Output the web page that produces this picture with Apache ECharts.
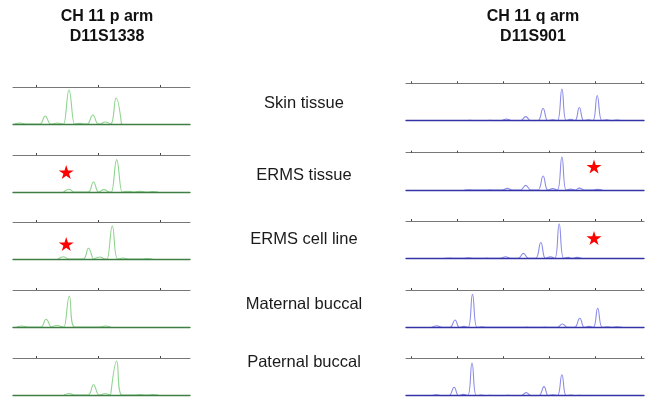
<!DOCTYPE html>
<html>
<head>
<meta charset="utf-8">
<script src="https://cdn.jsdelivr.net/npm/echarts@6/dist/echarts.min.js"></script>
<style>
  html, body { margin: 0; padding: 0; background: #fff; }
  #chart { width: 654px; height: 406px; }
</style>
</head>
<body>
<div id="chart"></div>
<script>
// Lane names (middle column)
const lanes = ['Skin tissue', 'ERMS tissue', 'ERMS cell line', 'Maternal buccal', 'Paternal buccal'];

// Size axis (bp) ticks and range for each marker
const pTicks = [140, 160, 180];
const pRange = [132.5, 189.7];
const qTicks = [200, 210, 220, 230, 240, 250];
const qRange = [198.8, 250.7];

// Peaks: [size bp, height RFU]
// D11S1338 (p arm)
const pSkin = [[134.8, 100], [142.9, 800], [146.8, 100], [150.6, 3400], [154.2, 60], [158.3, 900], [162.3, 200], [165.8, 2600]];
const pErmsTissue = [[150.6, 270], [158.5, 1000], [161.9, 240], [166.0, 3240], [169.7, 70], [173.5, 70], [177.7, 50]];
const pErmsCell = [[148.8, 230], [156.9, 1070], [160.6, 200], [164.6, 3300], [168.1, 100], [175.8, 50]];
const pMaternal = [[135.4, 100], [143.2, 770], [146.9, 150], [150.7, 3100], [162.3, 100]];
const pPaternal = [[150.7, 150], [158.5, 1030], [162.3, 150], [166.0, 3400], [173.5, 50], [177.7, 50]];

// D11S901 (q arm)
const qSkin = [[212.7, 50], [217.1, 50], [220.7, 170], [224.9, 400], [228.7, 1200], [230.8, 100], [232.8, 3140], [234.7, 150], [236.6, 1300], [238.6, 100], [240.5, 2500], [242.6, 100], [244.8, 70]];
const qErmsTissue = [[212.7, 30], [217.1, 30], [220.9, 170], [224.9, 470], [228.7, 1400], [230.8, 150], [232.8, 3270], [234.7, 100], [236.6, 200], [240.5, 70]];
const qErmsCell = [[208.4, 30], [212.4, 50], [216.4, 30], [220.5, 170], [224.4, 500], [228.2, 1570], [230.3, 150], [232.2, 3430], [234.2, 100], [236.0, 100]];
const qMaternal = [[205.5, 170], [209.5, 730], [211.4, 100], [213.3, 3270], [215.3, 70], [225.1, 30], [229.1, 30], [232.9, 330], [236.7, 900], [238.7, 100], [240.6, 1900], [242.6, 70], [244.8, 50]];
const qPaternal = [[205.5, 100], [209.3, 830], [211.3, 130], [213.2, 3230], [215.1, 70], [217.1, 30], [221.1, 30], [225.0, 300], [228.9, 900], [230.8, 100], [232.8, 2070], [234.7, 70], [236.6, 30]];

// Lost allele marks: [lane index, size bp, height RFU]
const pStars = [[1, 149.7, 2000], [2, 149.7, 1500]];
const qStars = [[1, 239.8, 2330], [2, 239.8, 2030]];

const pTraces = [pSkin, pErmsTissue, pErmsCell, pMaternal, pPaternal];
const qTraces = [qSkin, qErmsTissue, qErmsCell, qMaternal, qPaternal];

// layout
const yMax = 3700;
const pTops = [87, 155, 222, 290, 358];
const qTops = [83.3, 152.7, 221, 290, 358.3];
const labelY = [103.3, 175.3, 239.5, 304.5, 362];
const starPath = 'path://M50,0 L61,35 L98,35 L68,57 L79,91 L50,70 L21,91 L32,57 L2,35 L39,35 Z';

// each peak: base, apex, base; bases shared when neighbours sit close
function peakLine(peaks, halfWidth) {
  const pts = [];
  peaks.forEach(function (p, i) {
    let lo = p[0] - halfWidth, hi = p[0] + halfWidth;
    if (i > 0) lo = Math.max(lo, (peaks[i - 1][0] + p[0]) / 2);
    if (i < peaks.length - 1) hi = Math.min(hi, (peaks[i + 1][0] + p[0]) / 2);
    pts.push([lo, 0], [p[0], p[1]], [hi, 0]);
  });
  return pts;
}

const grid = [], xAxis = [], yAxis = [], series = [];

function addPanel(top, left, width, height, range, ticks, trace, halfWidth, lineColor, baseColor) {
  const gi = grid.length;
  grid.push({ left: left, top: top, width: width, height: height });
  // baseline
  xAxis.push({
    gridIndex: gi, type: 'value', min: range[0], max: range[1], position: 'bottom', z: 5,
    axisLine: { show: true, onZero: false, lineStyle: { color: baseColor, width: 1.3 } },
    axisTick: { show: false }, axisLabel: { show: false }, splitLine: { show: false }
  });
  // top line with size ticks
  xAxis.push({
    gridIndex: gi, type: 'value', min: range[0], max: range[1], position: 'top',
    axisLine: { show: true, onZero: false, lineStyle: { color: '#777', width: 1 } },
    axisTick: { show: true, length: 2, customValues: ticks, lineStyle: { color: '#444' } },
    axisLabel: { show: false }, splitLine: { show: false }
  });
  yAxis.push({ gridIndex: gi, type: 'value', min: 0, max: yMax, show: false });
  series.push({
    type: 'line', xAxisIndex: 2 * gi, yAxisIndex: gi,
    data: peakLine(trace, halfWidth), smooth: 0.45, symbol: 'none',
    lineStyle: { color: lineColor, width: 1.1 }, z: 2, silent: true
  });
  return gi;
}

const pGrids = [], qGrids = [];
for (let i = 0; i < lanes.length; i++) {
  pGrids.push(addPanel(pTops[i], 13, 177, 37, pRange, pTicks, pTraces[i], 1.75, '#8fd48f', '#3f7f46'));
  qGrids.push(addPanel(qTops[i], 406, 238, 37.4, qRange, qTicks, qTraces[i], 1.15, '#8c8ce8', '#3434a8'));
}

function addStars(stars, grids) {
  stars.forEach(function (s) {
    const gi = grids[s[0]];
    series.push({
      type: 'scatter', xAxisIndex: 2 * gi, yAxisIndex: gi,
      data: [[s[1], s[2]]], symbol: starPath, symbolSize: [15, 14],
      itemStyle: { color: '#ff0000', opacity: 1 }, z: 6, silent: true, clip: false
    });
  });
}
addStars(pStars, pGrids);
addStars(qStars, qGrids);

const headStyle = { fontFamily: 'Liberation Sans, Arial, sans-serif', fontSize: 16, fontWeight: 'bold', color: '#111', lineHeight: 20 };
const labelStyle = { fontFamily: 'Liberation Sans, Arial, sans-serif', fontSize: 16.5, fontWeight: 'normal', color: '#1a1a1a', lineHeight: 20 };

const title = [
  { text: 'CH 11 p arm\nD11S1338', left: 107, top: 7, textAlign: 'center', padding: 0, textStyle: headStyle },
  { text: 'CH 11 q arm\nD11S901', left: 533, top: 7, textAlign: 'center', padding: 0, textStyle: headStyle }
];
lanes.forEach(function (name, i) {
  title.push({ text: name, left: 304, top: labelY[i] - 10, textAlign: 'center', padding: 0, textStyle: labelStyle });
});

const chart = echarts.init(document.getElementById('chart'));
chart.setOption({
  animation: false,
  backgroundColor: '#fff',
  title: title,
  grid: grid,
  xAxis: xAxis,
  yAxis: yAxis,
  series: series
});

window.addEventListener('resize', function () {
  chart.resize();
});
</script>
</body>
</html>
